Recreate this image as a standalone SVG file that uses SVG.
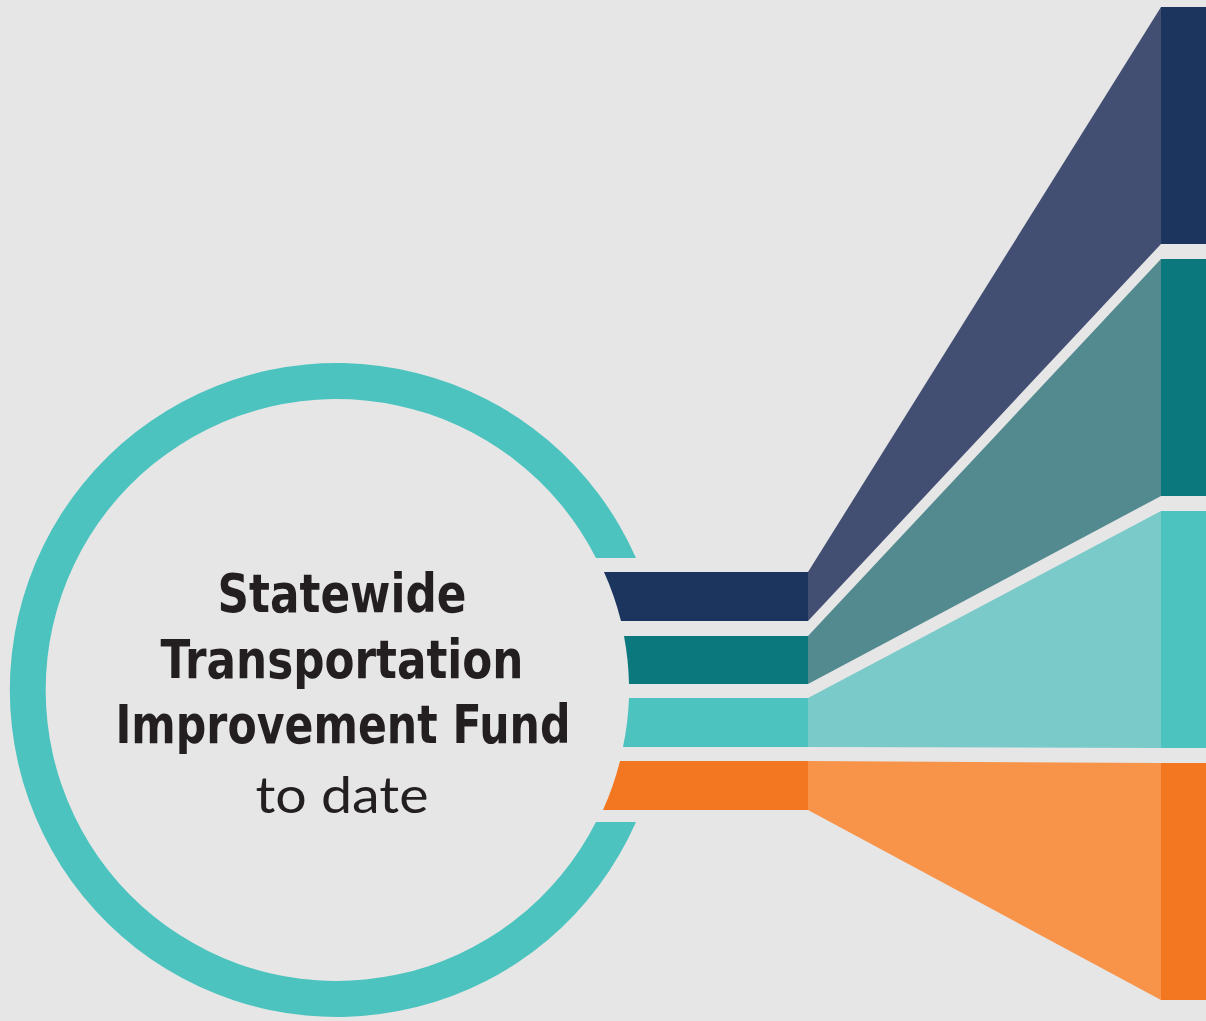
<svg xmlns="http://www.w3.org/2000/svg" width="1206" height="1021" viewBox="0 0 1206 1021">
<style>
.bold{font-family:"DejaVu Sans Condensed","Liberation Sans Narrow","Liberation Sans",sans-serif;font-weight:bold;font-size:54px;fill:#231f20;text-anchor:middle}
.reg{font-family:Lato,"Open Sans","Liberation Sans",sans-serif;font-size:50px;fill:#231f20;text-anchor:middle}
</style>
<rect width="1206" height="1021" fill="#e6e6e6"/>
<g id="ring">
<path d="M636,558 A327,327 0 1,0 636,822 L596,822 A291,291 0 1,1 596,558 Z" fill="#4cc3be"/>
</g>
<g id="title">
<text class="bold" x="342" y="612" textLength="249" lengthAdjust="spacingAndGlyphs">Statewide</text>
<text class="bold" x="342" y="678" textLength="363" lengthAdjust="spacingAndGlyphs">Transportation</text>
<text class="bold" x="343" y="743" textLength="455" lengthAdjust="spacingAndGlyphs">Improvement Fund</text>
<text class="reg" x="342" y="813" textLength="173" lengthAdjust="spacingAndGlyphs">to date</text>
</g>
<g id="connectors">
<g id="band-navy">
<path d="M604,572 L808,572 L808,621 L621,621 A292,292 0 0,0 604,572 Z" fill="#1c355e"/>
<polygon points="808,572 1161,7 1161,244 808,621" fill="#434f72"/>
<rect x="1161" y="7" width="45" height="237" fill="#1c355e"/>
</g>
<g id="band-teal">
<path d="M624,636 L808,636 L808,684 L629,684 A292,292 0 0,0 624,636 Z" fill="#0b787e"/>
<polygon points="808,636 1161,259 1161,496 808,684" fill="#528a90"/>
<rect x="1161" y="259" width="45" height="237" fill="#0b787e"/>
</g>
<g id="band-turquoise">
<path d="M629,698 L808,698 L808,747 L623,747 A292,292 0 0,0 629,698 Z" fill="#4cc3be"/>
<polygon points="808,698 1161,511 1161,748 808,747" fill="#7acaca"/>
<rect x="1161" y="511" width="45" height="237" fill="#4cc3be"/>
</g>
<g id="band-orange">
<path d="M620,761 L808,761 L808,810 L603,810 A292,292 0 0,0 620,761 Z" fill="#f37721"/>
<polygon points="808,761 1161,763 1161,1000 808,810" fill="#f7944a"/>
<rect x="1161" y="763" width="45" height="237" fill="#f37721"/>
</g>
</g>
</svg>
